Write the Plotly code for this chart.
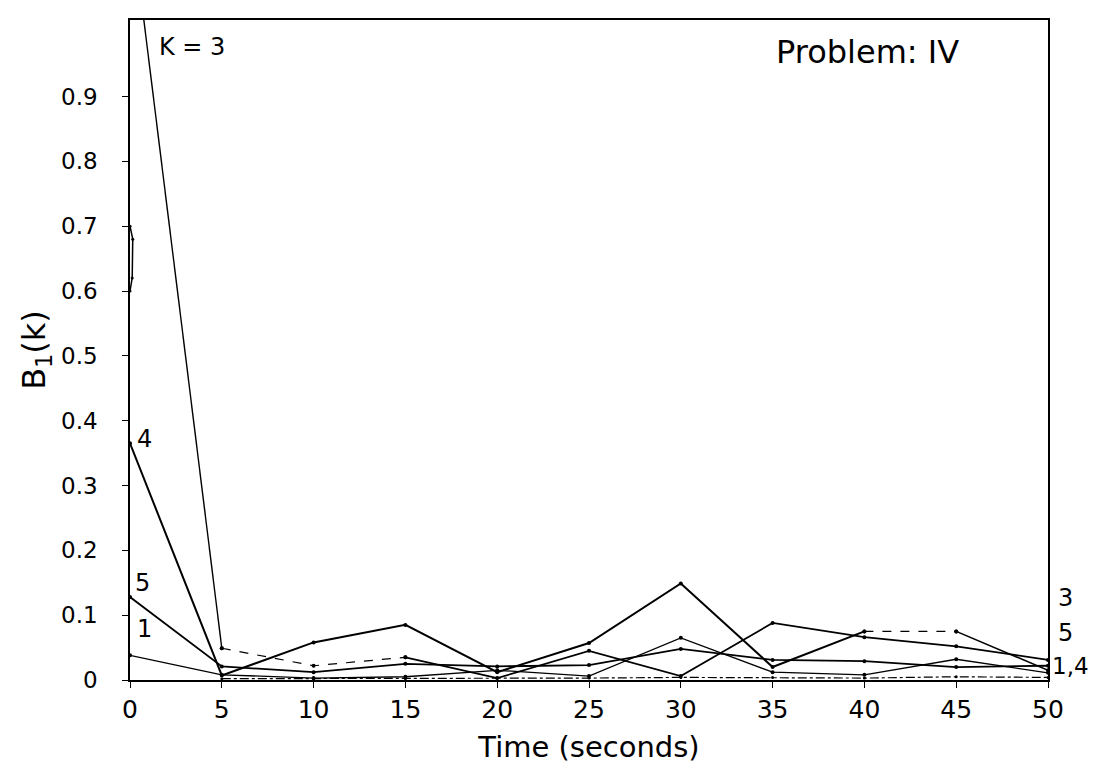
import plotly.graph_objects as go

# ---- data ----
t = [0, 5, 10, 15, 20, 25, 30, 35, 40, 45, 50]
k1 = [0.038, 0.008, 0.003, 0.005, 0.015, 0.006, 0.065, 0.012, 0.008, 0.032, 0.011]
k3 = [1.19, 0.049, 0.022, 0.035, 0.003, 0.045, 0.006, 0.088, 0.066, 0.052, 0.031]
k4 = [0.365, 0.007, 0.058, 0.085, 0.012, 0.057, 0.149, 0.020, 0.075, 0.075, 0.015]
k5 = [0.128, 0.021, 0.012, 0.025, 0.021, 0.023, 0.048, 0.031, 0.029, 0.020, 0.022]
base_t = [5, 10, 15, 20, 25, 30, 35, 40, 45, 50]
base = [0.002, 0.002, 0.002, 0.003, 0.003, 0.004, 0.004, 0.003, 0.005, 0.004]
loop_t = [0, 0.15, 0.12, 0]
loop_v = [0.70, 0.68, 0.62, 0.60]

xticks = [0, 5, 10, 15, 20, 25, 30, 35, 40, 45, 50]
yticks = [0, 0.1, 0.2, 0.3, 0.4, 0.5, 0.6, 0.7, 0.8, 0.9]
ytick_text = ["0", "0.1", "0.2", "0.3", "0.4", "0.5", "0.6", "0.7", "0.8", "0.9"]

FONT = "DejaVu Sans"
BLK = "black"

fig = go.Figure()

def add(x, y, width=1.6, dash="solid", size=4):
    fig.add_trace(go.Scatter(
        x=x, y=y, mode="lines+markers",
        line=dict(color=BLK, width=width, dash=dash),
        marker=dict(color=BLK, size=size),
        showlegend=False, hoverinfo="skip", cliponaxis=True))

add(base_t, base, width=1.2, dash="dashdot", size=3)
add(t, k1, width=1.3)
add(t, k5, width=1.8)
add(t[:2], k3[:2], width=1.4)
add(t[1:4], k3[1:4], width=1.2, dash="dash")
add(t[3:], k3[3:], width=1.7)
add(t[:9], k4[:9], width=2.0)
add(t[8:10], k4[8:10], width=1.4, dash="dash")
add(t[9:], k4[9:], width=1.6)
fig.add_trace(go.Scatter(x=loop_t, y=loop_v, mode="lines+markers",
                         line=dict(color=BLK, width=1.5),
                         marker=dict(color=BLK, size=3),
                         showlegend=False, hoverinfo="skip"))

ann = [
    dict(x=0.0, y=1.0, text="K = 3", xshift=27, yshift=-15, size=24),
    dict(x=0, y=k4[0], text="4", xshift=5, yshift=4, size=24),
    dict(x=0, y=k5[0], text="5", xshift=3, yshift=14, size=24),
    dict(x=0, y=k1[0], text="1", xshift=5, yshift=26, size=24),
    dict(x=50, y=k3[-1], text="3", xshift=8, yshift=62, size=24),
    dict(x=50, y=k5[-1], text="5", xshift=8, yshift=33, size=24),
    dict(x=50, y=k1[-1], text="1,4", xshift=2, yshift=7, size=23),
]
for a in ann:
    fig.add_annotation(x=a["x"], y=a["y"], xref="x", yref="y", text=a["text"],
                       showarrow=False, xanchor="left", yanchor="middle",
                       xshift=a["xshift"], yshift=a["yshift"],
                       font=dict(family=FONT, size=a["size"], color=BLK))

fig.add_annotation(x=0.803, y=0.952, xref="paper", yref="paper", text="Problem: IV",
                   showarrow=False, xanchor="center", yanchor="middle",
                   font=dict(family=FONT, size=32, color=BLK))

fig.update_layout(
    width=1095, height=764,
    margin=dict(l=122, r=55, t=10, b=92),
    paper_bgcolor="white", plot_bgcolor="white",
    font=dict(family=FONT, color=BLK),
    xaxis=dict(range=[0, 50], tickvals=xticks, ticktext=[str(v) for v in xticks],
               showgrid=False, zeroline=False, showline=True, linecolor=BLK, linewidth=1.5,
               mirror=True, ticks="outside", ticklen=6, tickcolor=BLK,
               tickfont=dict(size=25, family=FONT),
               title=dict(text="Time (seconds)", font=dict(size=29, family=FONT), standoff=14)),
    yaxis=dict(range=[0, 1.018], tickvals=yticks, ticktext=ytick_text,
               showgrid=False, zeroline=False, showline=True, linecolor=BLK, linewidth=1.5,
               mirror=True, ticks="outside", ticklen=6, tickcolor=BLK,
               ticklabelstandoff=20,
               tickfont=dict(size=23, family=FONT),
               title=dict(text="B<sub>1</sub>(k)", font=dict(size=32, family=FONT), standoff=6)),
)

fig.write_html("out.html")
